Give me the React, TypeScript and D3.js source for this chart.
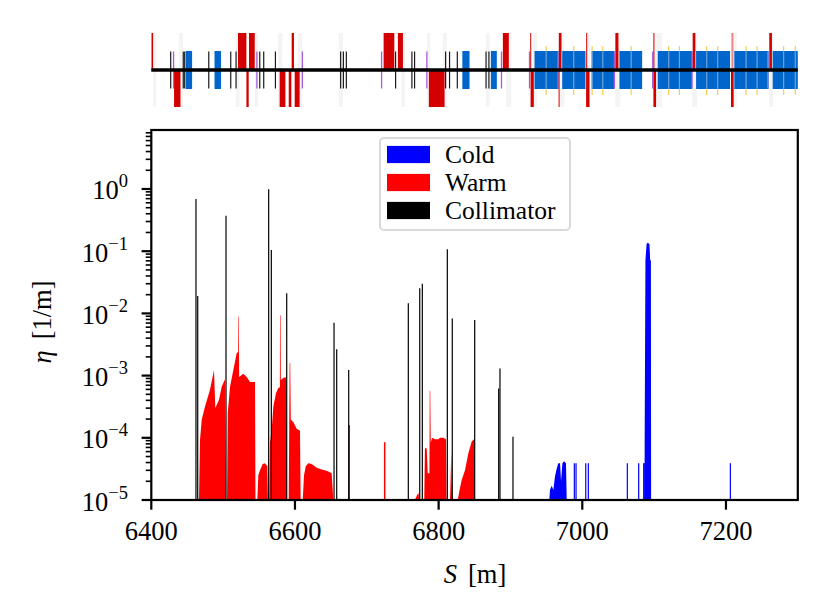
import React, { useRef, useEffect } from "react";
import * as d3 from "d3";

// ---- loss map: [s (m), eta (1/m)] ----
const collimatorLosses: [number, number][] = [
    [6462.2, 0.69], [6464.6, 0.019], [6504.0, 0.37], [6563.4, 0.99], [6567.1, 0.105],
    [6588.5, 0.021], [6654.4, 0.0071], [6658.1, 0.00265], [6674.8, 0.00123],
    [6757.8, 0.0145], [6773.7, 0.0253], [6777.3, 0.03], [6812.1, 0.107], [6819.0, 0.0083],
    [6850.2, 0.0078], [6883.6, 0.00062], [6885.4, 0.0013], [6903.5, 0.000104],
];

const warmLosses: [number, number][][] = [
    [[6466.4, 1e-5], [6467.8, 9.2e-5], [6470.2, 1.95e-4], [6474.8, 3.2e-4], [6481.7, 5.9e-4],
     [6487.3, 1.23e-3], [6489.1, 3.0e-4], [6494.3, 4.1e-4], [6498.0, 6.6e-4], [6502.6, 8.7e-4], [6503.8, 1e-5]],
    [[6505.4, 1e-5], [6506.4, 2.5e-4], [6509.6, 6.6e-4], [6514.2, 1.23e-3], [6518.9, 2.3e-3],
     [6521.0, 2.4e-3], [6521.2, 8.9e-3], [6521.9, 8.9e-3], [6522.3, 9.5e-4], [6528.1, 1.07e-3],
     [6532.8, 9.5e-4], [6537.4, 7.9e-4], [6544.4, 7.9e-4], [6545.0, 1e-5]],
    [[6547.6, 1e-5], [6549.0, 2.5e-5], [6551.3, 3.0e-5], [6555.1, 3.8e-5], [6558.3, 3.9e-5],
     [6561.5, 3.5e-5], [6562.4, 1e-5]],
    [[6564.3, 1e-5], [6565.2, 8.3e-5], [6567.6, 1.35e-4], [6569.9, 3.2e-4], [6573.6, 5.2e-4],
     [6576.8, 6.3e-4], [6579.0, 6.5e-4], [6579.2, 9.3e-3], [6579.9, 9.3e-3], [6580.3, 8.5e-4],
     [6584.7, 9.3e-4], [6587.5, 9.3e-4], [6588.0, 1e-5]],
    [[6591.3, 1e-5], [6592.6, 1.6e-3], [6593.4, 1.6e-3], [6594.2, 1.95e-4], [6597.7, 1.8e-4],
     [6602.4, 1.4e-4], [6607.0, 1.3e-4], [6607.9, 1e-5]],
    [[6610.8, 1e-5], [6612.6, 2.5e-5], [6615.0, 3.5e-5], [6618.6, 3.9e-5], [6623.3, 3.8e-5],
     [6630.3, 3.3e-5], [6637.2, 3.1e-5], [6644.2, 2.95e-5], [6651.1, 2.7e-5], [6653.4, 1e-5]],
    [[6767.0, 1e-5], [6770.0, 1.2e-5], [6772.0, 1.3e-5], [6773.0, 1e-5]],
    [[6780.0, 1e-5], [6780.9, 6.8e-5], [6783.4, 6.8e-5], [6784.8, 2.7e-5], [6787.2, 2.7e-5],
     [6787.6, 5.7e-4], [6788.3, 5.7e-4], [6789.0, 8.3e-5], [6790.8, 1.0e-4], [6795.0, 9.5e-5],
     [6799.6, 9.5e-5], [6801.9, 1.0e-4], [6806.5, 1.0e-4], [6810.3, 9.5e-5], [6811.0, 1e-5]],
    [[6815.9, 1e-5], [6817.6, 6e-5], [6818.7, 1e-5]],
    [[6826.6, 1e-5], [6828.9, 1.4e-5], [6832.1, 2.1e-5], [6836.7, 3.0e-5], [6841.3, 5.6e-5],
     [6846.0, 8.7e-5], [6849.3, 9.5e-5], [6849.7, 1e-5]],
];
const warmSpikes: [number, number][] = [[6675.6, 1.6e-4], [6724.9, 8.5e-5]];

const coldLosses: [number, number][][] = [
    [[6954.1, 1e-5], [6955.0, 1.45e-5], [6957.4, 1.7e-5], [6959.7, 1.45e-5], [6962.0, 2.4e-5],
     [6964.4, 3.2e-5], [6966.6, 3.9e-5], [6969.0, 3.9e-5], [6970.4, 2.0e-5], [6972.3, 3.9e-5],
     [6974.6, 4.2e-5], [6977.3, 3.9e-5], [6978.3, 1e-5]],
    [[7086.6, 1e-5], [7086.8, 8e-5], [7087.9, 0.072], [7089.5, 0.13], [7091.0, 0.137],
     [7093.5, 0.13], [7094.5, 0.072], [7095.5, 0.07], [7095.8, 1e-5]],
];
const coldSpikes: [number, number][] = [
    [6988.9, 3.9e-5], [6991.3, 3.9e-5], [7004.8, 3.9e-5], [7008.4, 3.9e-5], [7062.7, 3.9e-5],
    [7078.5, 3.9e-5], [7085.5, 3.9e-5], [7086.2, 3.9e-5], [7206.1, 3.9e-5],
];

const xTicks = [6400, 6600, 6800, 7000, 7200];
const yDecades = [-5, -4, -3, -2, -1, 0];
const legendItems = [
    { label: "Cold", color: "#0000ff" },
    { label: "Warm", color: "#ff0000" },
    { label: "Collimator", color: "#000000" },
];

// ---- machine layout strip: [s start, s end] or s ----
const dipoles: [number, number][] = [
    [6448, 6456.8], [6488, 6497], [6833, 6843], [6872.7, 6881], [6933.5, 6966.9], [6972, 7004.4],
    [7013.2, 7044.8], [7051.7, 7083.3], [7105, 7152.8], [7158.4, 7205.7], [7211.6, 7259.4], [7265, 7300],
];
const quadsUp: [number, number][] = [
    [6400.3, 6402.5], [6520.7, 6532.4], [6536, 6544], [6595.4, 6598.6], [6723.4, 6738.3],
    [6743.3, 6750.3], [6889.4, 6897.7], [6927.5, 6928.9], [6967.3, 6971], [7005.4, 7006.4],
    [7046, 7050.3], [7099, 7100], [7153.7, 7157.4], [7260.3, 7264],
];
const quadsDown: [number, number][] = [
    [6431.7, 6440.6], [6532.4, 6535.6], [6578.7, 6586.7], [6591.3, 6595], [6599.6, 6606.5],
    [6786.4, 6808.3], [6928, 6932.5], [6967, 6968], [7005.3, 7010], [7099, 7102.7], [7207, 7210.7],
];
const quadsUpFaded: [number, number][] = [[7207.5, 7210.5]];
const blackMarks = [
    6427, 6444.5, 6446.5, 6480, 6510.6, 6518, 6551, 6556.5, 6572.8, 6663.6, 6667.4, 6671.5,
    6740.1, 6762.8, 6766.5, 6809.7, 6815.2, 6826, 6866, 6870,
];
const purpleMarks = [6431, 6547, 6610.3, 6720.6, 6783.6, 6887.5, 6926.5, 6966, 7044.7, 7098, 7152.8, 7258];
const yellowMarks = [6949.7, 6988.1, 7013.7, 7028.5, 7068, 7120.3, 7135.2, 7173.2, 7188.5, 7228, 7243.3, 7280.3, 7296.5];
const faintBoxes: [number, number][] = [
    [6402.5, 6407], [6438.7, 6444.2], [6517.5, 6523], [6544, 6548.6], [6576.4, 6582.5], [6604, 6610],
    [6660.8, 6666.8], [6748, 6753.6], [6783.6, 6788.4], [6806, 6811.5], [6866, 6871], [6894, 6901],
    [6931, 6937], [6968, 6975], [7006, 7011], [7046, 7053], [7099, 7111], [7153, 7160], [7208, 7215], [7260, 7266],
];

const LossMap = () => {
    const svgRef = useRef(null);

    useEffect(() => {
        const width = 831;
        const height = 614;
        const plot = { left: 151.3, right: 797.8, top: 130, bottom: 500 };
        const font = "'Liberation Serif', 'DejaVu Serif', serif";

        const svg = d3.select(svgRef.current).attr("width", width).attr("height", height);
        svg.selectAll("*").remove();

        const x = d3.scaleLinear().domain([6400, 7300]).range([plot.left, plot.right]);
        const y = d3.scaleLog().domain([1e-5, 8.88]).range([plot.bottom, plot.top]);

        // ---------- layout strip ----------
        const strip = svg.append("g");
        const lineY = 70;
        strip.selectAll(".faint").data(faintBoxes).enter().append("rect")
            .attr("x", (d) => x(d[0])).attr("width", (d) => x(d[1]) - x(d[0]))
            .attr("y", 33).attr("height", 74).attr("fill", "#f4f4f4");
        strip.selectAll(".yel").data(yellowMarks).enter().append("line")
            .attr("x1", (d) => x(d)).attr("x2", (d) => x(d))
            .attr("y1", 46).attr("y2", 95).attr("stroke", "#f4cd55").attr("stroke-width", 1.2);
        strip.selectAll(".dip").data(dipoles).enter().append("rect")
            .attr("x", (d) => x(d[0])).attr("width", (d) => x(d[1]) - x(d[0]))
            .attr("y", 51).attr("height", 38).attr("fill", "#0066cc");
        strip.selectAll(".yelin").data(yellowMarks).enter().append("line")
            .attr("x1", (d) => x(d)).attr("x2", (d) => x(d))
            .attr("y1", 51).attr("y2", 89).attr("stroke", "#6ea4dc").attr("stroke-width", 1.2);
        strip.selectAll(".blk").data(blackMarks).enter().append("line")
            .attr("x1", (d) => x(d)).attr("x2", (d) => x(d))
            .attr("y1", 51.5).attr("y2", 88.5).attr("stroke", "#1a1a1a").attr("stroke-width", 1.2);
        strip.selectAll(".pur").data(purpleMarks).enter().append("line")
            .attr("x1", (d) => x(d)).attr("x2", (d) => x(d))
            .attr("y1", 51.5).attr("y2", 88.5).attr("stroke", "#a95bd8").attr("stroke-width", 1.3);
        strip.selectAll(".qup").data(quadsUp).enter().append("rect")
            .attr("x", (d) => x(d[0])).attr("width", (d) => Math.max(1, x(d[1]) - x(d[0])))
            .attr("y", 33).attr("height", lineY - 33).attr("fill", "#d40000");
        strip.selectAll(".qupf").data(quadsUpFaded).enter().append("rect")
            .attr("x", (d) => x(d[0])).attr("width", (d) => x(d[1]) - x(d[0]))
            .attr("y", 33).attr("height", lineY - 33).attr("fill", "#ee8a8a");
        strip.selectAll(".qdn").data(quadsDown).enter().append("rect")
            .attr("x", (d) => x(d[0])).attr("width", (d) => Math.max(1, x(d[1]) - x(d[0])))
            .attr("y", lineY).attr("height", 107 - lineY).attr("fill", "#d40000");
        strip.append("line")
            .attr("x1", plot.left).attr("x2", plot.right)
            .attr("y1", lineY).attr("y2", lineY)
            .attr("stroke", "black").attr("stroke-width", 3.5);

        // ---------- main loss map ----------
        svg.append("defs").append("clipPath").attr("id", "plotClip")
            .append("rect")
            .attr("x", plot.left).attr("y", plot.top)
            .attr("width", plot.right - plot.left).attr("height", plot.bottom - plot.top);
        const g = svg.append("g").attr("clip-path", "url(#plotClip)");

        const area = d3.area<[number, number]>()
            .x((d) => x(d[0]))
            .y0(plot.bottom)
            .y1((d) => y(Math.max(d[1], 1e-5)));

        g.selectAll(".warm").data(warmLosses).enter().append("path")
            .attr("d", (d) => area(d)).attr("fill", "#ff0000");
        g.selectAll(".cold").data(coldLosses).enter().append("path")
            .attr("d", (d) => area(d)).attr("fill", "#0000ff");

        const spikes = (data: [number, number][], color: string, w: number) => {
            g.append("g").selectAll("line").data(data).enter().append("line")
                .attr("x1", (d) => x(d[0])).attr("x2", (d) => x(d[0]))
                .attr("y1", plot.bottom).attr("y2", (d) => y(d[1]))
                .attr("stroke", color).attr("stroke-width", w);
        };
        spikes(warmSpikes, "#ff0000", 1.5);
        spikes(coldSpikes, "#0000ff", 1.2);
        spikes(collimatorLosses, "#000000", 1.2);

        // axes
        const ax = svg.append("g");
        xTicks.forEach((t) => {
            ax.append("line").attr("x1", x(t)).attr("x2", x(t))
                .attr("y1", plot.bottom).attr("y2", plot.bottom + 9.7)
                .attr("stroke", "black").attr("stroke-width", 2.2);
            ax.append("text").attr("x", x(t)).attr("y", 540)
                .attr("text-anchor", "middle").attr("font-family", font).attr("font-size", 26.5)
                .text(t);
        });

        yDecades.forEach((e) => {
            const v = Math.pow(10, e);
            const yy = y(v);
            ax.append("line").attr("x1", plot.left - 9.7).attr("x2", plot.left)
                .attr("y1", yy).attr("y2", yy)
                .attr("stroke", "black").attr("stroke-width", 2.2);
            const label = ax.append("text").attr("x", 128).attr("y", yy + 10.5)
                .attr("text-anchor", "end").attr("font-family", font).attr("font-size", 26.5);
            label.append("tspan").text("10");
            label.append("tspan").attr("dy", -12).attr("font-size", 18.5)
                .text(e < 0 ? `\u2212${-e}` : `${e}`);
            for (let m = 2; m <= 9; m++) {
                const mv = m * v;
                if (mv > 8.88) break;
                ax.append("line").attr("x1", plot.left - 5.6).attr("x2", plot.left)
                    .attr("y1", y(mv)).attr("y2", y(mv))
                    .attr("stroke", "black").attr("stroke-width", 1.6);
            }
        });

        ax.append("rect")
            .attr("x", plot.left).attr("y", plot.top)
            .attr("width", plot.right - plot.left).attr("height", plot.bottom - plot.top)
            .attr("fill", "none").attr("stroke", "black").attr("stroke-width", 2.2);

        // axis labels
        const xl = ax.append("text").attr("x", 475).attr("y", 583)
            .attr("text-anchor", "middle").attr("font-family", font).attr("font-size", 26.5);
        xl.append("tspan").attr("font-style", "italic").text("S");
        xl.append("tspan").attr("dx", 11).text("[m]");

        const yl = ax.append("text")
            .attr("transform", "translate(51,322) rotate(-90)")
            .attr("text-anchor", "middle").attr("font-family", font).attr("font-size", 26.5);
        yl.append("tspan").attr("font-style", "italic").text("\u03b7");
        yl.append("tspan").attr("dx", 11).text("[1/m]");

        // legend
        const lg = svg.append("g");
        lg.append("rect").attr("x", 380).attr("y", 138).attr("width", 190).attr("height", 92)
            .attr("rx", 4).attr("fill", "white").attr("fill-opacity", 0.8)
            .attr("stroke", "#d9d9d9").attr("stroke-width", 2);
        legendItems.forEach((item, i) => {
            const cy = 154.5 + i * 28;
            lg.append("rect").attr("x", 387).attr("y", cy - 8.6).attr("width", 43).attr("height", 17.2)
                .attr("fill", item.color);
            lg.append("text").attr("x", 445).attr("y", cy + 8.5)
                .attr("font-family", font).attr("font-size", 25.5).text(item.label);
        });
    }, []);

    return (
        <svg
            ref={svgRef}
            style={{ position: "absolute", left: 0, top: 0, background: "white" }}
        ></svg>
    );
};

export default LossMap;
